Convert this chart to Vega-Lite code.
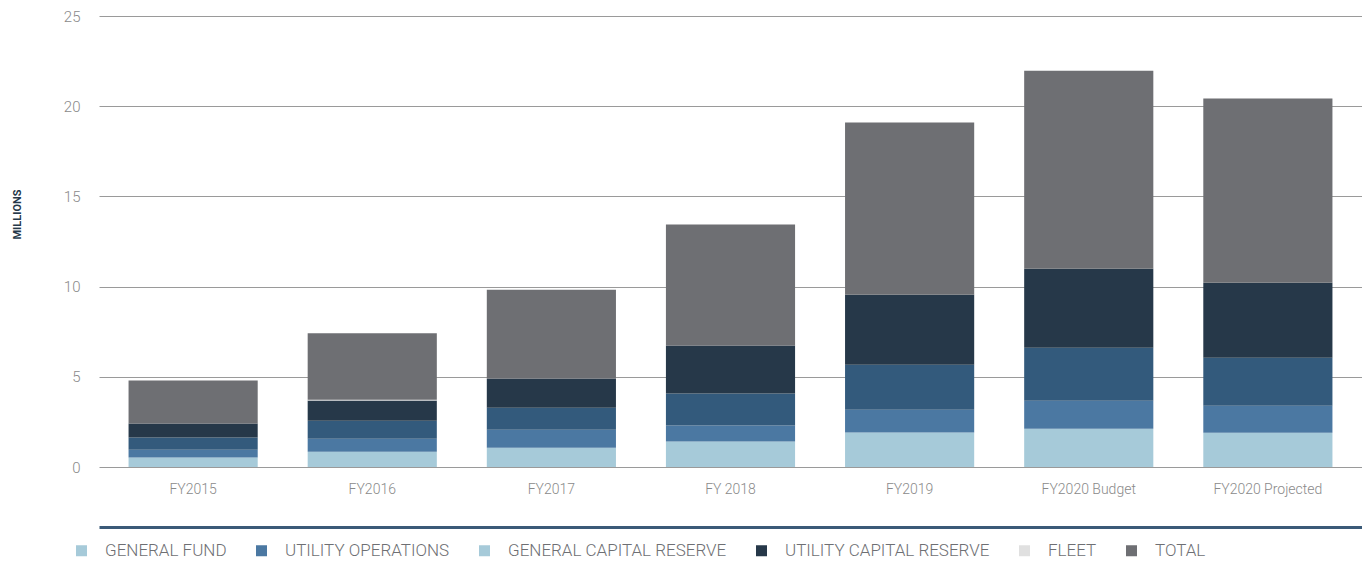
{
  "$schema": "https://vega.github.io/schema/vega-lite/v6.json",
  "autosize": {"type": "none"},
  "width": 1263,
  "height": 451,
  "padding": {"left": 99, "top": 16, "right": 0, "bottom": 95},
  "background": "white",
  "config": {
    "view": {"stroke": null},
    "font": "Roboto",
    "axis": {"labelFont": "Roboto", "titleFont": "Roboto"},
    "legend": {"labelFont": "Roboto"}
  },
  "data": {
    "values": [
      {"year": "FY2015", "series": "GENERAL FUND", "rank": 1, "value": 0.52},
      {"year": "FY2015", "series": "UTILITY OPERATIONS", "rank": 2, "value": 0.44},
      {"year": "FY2015", "series": "GENERAL CAPITAL RESERVE", "rank": 3, "value": 0.67},
      {"year": "FY2015", "series": "UTILITY CAPITAL RESERVE", "rank": 4, "value": 0.78},
      {"year": "FY2015", "series": "FLEET", "rank": 5, "value": 0},
      {"year": "FY2015", "series": "TOTAL", "rank": 6, "value": 2.38},
      {"year": "FY2016", "series": "GENERAL FUND", "rank": 1, "value": 0.85},
      {"year": "FY2016", "series": "UTILITY OPERATIONS", "rank": 2, "value": 0.72},
      {"year": "FY2016", "series": "GENERAL CAPITAL RESERVE", "rank": 3, "value": 1.0},
      {"year": "FY2016", "series": "UTILITY CAPITAL RESERVE", "rank": 4, "value": 1.11},
      {"year": "FY2016", "series": "FLEET", "rank": 5, "value": 0.05},
      {"year": "FY2016", "series": "TOTAL", "rank": 6, "value": 3.68},
      {"year": "FY2017", "series": "GENERAL FUND", "rank": 1, "value": 1.07},
      {"year": "FY2017", "series": "UTILITY OPERATIONS", "rank": 2, "value": 1.0},
      {"year": "FY2017", "series": "GENERAL CAPITAL RESERVE", "rank": 3, "value": 1.22},
      {"year": "FY2017", "series": "UTILITY CAPITAL RESERVE", "rank": 4, "value": 1.61},
      {"year": "FY2017", "series": "FLEET", "rank": 5, "value": 0},
      {"year": "FY2017", "series": "TOTAL", "rank": 6, "value": 4.92},
      {"year": "FY 2018", "series": "GENERAL FUND", "rank": 1, "value": 1.41},
      {"year": "FY 2018", "series": "UTILITY OPERATIONS", "rank": 2, "value": 0.89},
      {"year": "FY 2018", "series": "GENERAL CAPITAL RESERVE", "rank": 3, "value": 1.77},
      {"year": "FY 2018", "series": "UTILITY CAPITAL RESERVE", "rank": 4, "value": 2.66},
      {"year": "FY 2018", "series": "FLEET", "rank": 5, "value": 0},
      {"year": "FY 2018", "series": "TOTAL", "rank": 6, "value": 6.71},
      {"year": "FY2019", "series": "GENERAL FUND", "rank": 1, "value": 1.91},
      {"year": "FY2019", "series": "UTILITY OPERATIONS", "rank": 2, "value": 1.27},
      {"year": "FY2019", "series": "GENERAL CAPITAL RESERVE", "rank": 3, "value": 2.49},
      {"year": "FY2019", "series": "UTILITY CAPITAL RESERVE", "rank": 4, "value": 3.88},
      {"year": "FY2019", "series": "FLEET", "rank": 5, "value": 0},
      {"year": "FY2019", "series": "TOTAL", "rank": 6, "value": 9.55},
      {"year": "FY2020 Budget", "series": "GENERAL FUND", "rank": 1, "value": 2.12},
      {"year": "FY2020 Budget", "series": "UTILITY OPERATIONS", "rank": 2, "value": 1.55},
      {"year": "FY2020 Budget", "series": "GENERAL CAPITAL RESERVE", "rank": 3, "value": 2.94},
      {"year": "FY2020 Budget", "series": "UTILITY CAPITAL RESERVE", "rank": 4, "value": 4.38},
      {"year": "FY2020 Budget", "series": "FLEET", "rank": 5, "value": 0},
      {"year": "FY2020 Budget", "series": "TOTAL", "rank": 6, "value": 10.98},
      {"year": "FY2020 Projected", "series": "GENERAL FUND", "rank": 1, "value": 1.9},
      {"year": "FY2020 Projected", "series": "UTILITY OPERATIONS", "rank": 2, "value": 1.5},
      {"year": "FY2020 Projected", "series": "GENERAL CAPITAL RESERVE", "rank": 3, "value": 2.66},
      {"year": "FY2020 Projected", "series": "UTILITY CAPITAL RESERVE", "rank": 4, "value": 4.16},
      {"year": "FY2020 Projected", "series": "FLEET", "rank": 5, "value": 0},
      {"year": "FY2020 Projected", "series": "TOTAL", "rank": 6, "value": 10.2}
    ]
  },
  "layer": [
    {
      "mark": {"type": "bar"},
      "encoding": {
        "x": {
          "field": "year", "type": "nominal", "sort": null,
          "scale": {"paddingInner": 0.279, "paddingOuter": 0.165},
          "axis": {
            "title": null, "labelAngle": 0, "domain": false, "ticks": false,
            "labelColor": "#8a8a8a", "labelFontSize": 14, "labelFontWeight": 300, "labelPadding": 15
          }
        },
        "y": {
          "field": "value", "type": "quantitative", "stack": "zero",
          "scale": {"domain": [0, 25], "nice": false},
          "axis": {
            "title": "MILLIONS", "titleColor": "#263849", "titleFontSize": 11, "titleFontWeight": "bold",
            "titleX": -82, "titleY": 198, "titleAngle": 270, "titleAlign": "center", "titleBaseline": "middle",
            "values": [0, 5, 10, 15, 20, 25], "domain": false, "ticks": false,
            "grid": true, "gridColor": "#9a9a9a", "gridWidth": 1,
            "labelColor": "#8a8a8a", "labelFontSize": 15, "labelFontWeight": 300, "labelPadding": 19
          }
        },
        "order": {"field": "rank", "type": "quantitative", "sort": "ascending"},
        "color": {
          "field": "series", "type": "nominal",
          "scale": {
            "domain": ["GENERAL FUND", "UTILITY OPERATIONS", "GENERAL CAPITAL RESERVE", "UTILITY CAPITAL RESERVE", "FLEET", "TOTAL"],
            "range": ["#a6cad9", "#4b78a2", "#335a7c", "#263849", "#e0e0e0", "#6e6f73"]
          },
          "legend": null
        }
      }
    },
    {
      "mark": {"type": "square", "opacity": 0},
      "encoding": {
        "x": {
          "field": "year", "type": "nominal", "sort": null,
          "axis": {
            "orient": "bottom", "offset": 60, "title": null, "labels": false, "ticks": false, "grid": false,
            "domain": true, "domainColor": "#3b5a78", "domainWidth": 3
          }
        },
        "color": {
          "field": "series", "type": "nominal",
          "scale": {
            "domain": ["GENERAL FUND", "UTILITY OPERATIONS", "GENERAL CAPITAL RESERVE", "UTILITY CAPITAL RESERVE", "FLEET", "TOTAL"],
            "range": ["#a6cad9", "#4b78a2", "#a6cad9", "#263849", "#e0e0e0", "#6e6f73"]
          },
          "legend": {
            "title": null, "orient": "none", "direction": "horizontal", "legendX": -26, "legendY": 526,
            "symbolType": "square", "symbolSize": 121, "symbolOpacity": 1, "symbolStrokeWidth": 0,
            "labelFontSize": 17, "labelFontWeight": 300, "labelColor": "#6e6f73", "labelOffset": 15, "columnPadding": 26,
            "labelLimit": 400, "padding": 0
          }
        }
      }
    }
  ],
  "resolve": {"scale": {"color": "independent"}, "axis": {"x": "independent"}}
}
